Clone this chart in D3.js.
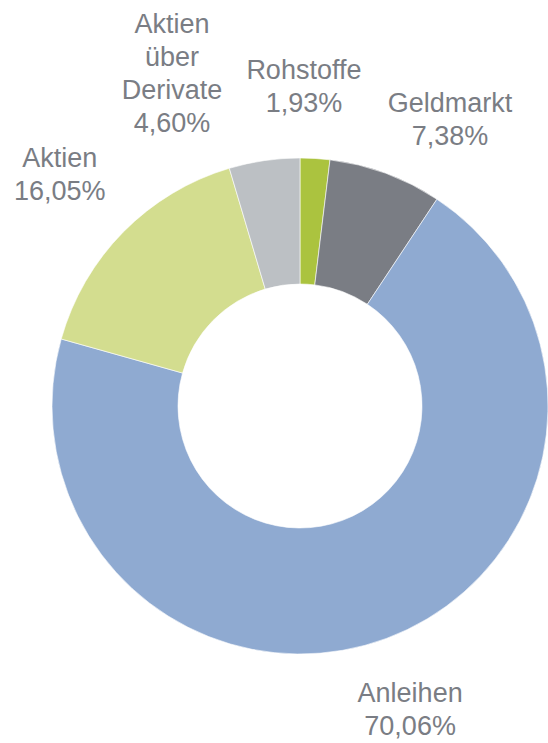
<!DOCTYPE html>
<html>
<head>
<meta charset="utf-8">
<script src="https://cdn.jsdelivr.net/npm/d3@7"></script>
<style>
  html, body { margin: 0; padding: 0; background: #ffffff; }
  svg { display: block; }
</style>
</head>
<body>
<svg id="chart" width="548" height="743"></svg>
<script>
// ---- data ----
const categories = ["Rohstoffe", "Geldmarkt", "Anleihen", "Aktien", "Aktien über Derivate"];
const values = [1.93, 7.38, 70.06, 16.05, 4.60];
const valueLabels = ["1,93%", "7,38%", "70,06%", "16,05%", "4,60%"];
const labelLines = [["Rohstoffe"], ["Geldmarkt"], ["Anleihen"], ["Aktien"], ["Aktien", "über", "Derivate"]];
const colors = ["#abc33f", "#7a7d84", "#8faad1", "#d3dd8f", "#bcc0c4"];

// ---- layout (label placement, polar: degrees from top, radius) ----
const labelAngles = [0.7, 27.6, 160, 314, 339];
const labelRadii = [320, 324, 322, 334, 357];

const width = 548, height = 743;
const cx = 300, cy = 406;
const outerR = 248, innerR = 122;
const fontSize = 27, lineH = 33;

const svg = d3.select("#chart");
const g = svg.append("g").attr("transform", `translate(${cx},${cy})`);

const pie = d3.pie().sort(null).value(d => d)(values);
const arc = d3.arc().innerRadius(innerR).outerRadius(outerR);

g.selectAll("path.slice")
  .data(pie)
  .join("path")
  .attr("class", "slice")
  .attr("d", arc)
  .attr("fill", (d, i) => colors[i])
  .attr("stroke", "#ffffff")
  .attr("stroke-width", 0.6);

const labels = g.selectAll("text.label")
  .data(pie)
  .join("text")
  .attr("class", "label")
  .attr("text-anchor", "middle")
  .attr("font-family", "Liberation Sans, Arial, sans-serif")
  .attr("font-size", fontSize)
  .attr("fill", "#7a7d84")
  .each(function(d, i) {
    const p = d3.pointRadial(labelAngles[i] * Math.PI / 180, labelRadii[i]);
    const lines = labelLines[i].concat([valueLabels[i]]);
    const n = lines.length;
    const firstBase = p[1] - (n - 1) * lineH / 2 + 0.36 * fontSize;
    const t = d3.select(this);
    lines.forEach((ln, k) => {
      t.append("tspan")
        .attr("x", p[0])
        .attr("y", firstBase + k * lineH)
        .text(ln);
    });
  });
</script>
</body>
</html>
